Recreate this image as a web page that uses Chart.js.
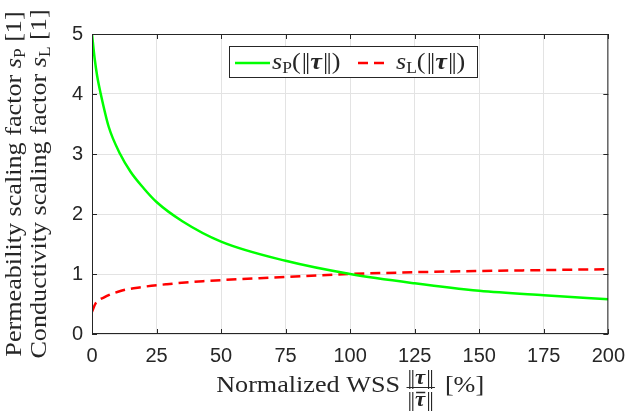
<!DOCTYPE html>
<html>
<head>
<meta charset="utf-8">
<script src="https://cdn.jsdelivr.net/npm/chart.js@4.4.1/dist/chart.umd.min.js"></script>
<style>
html, body { margin: 0; padding: 0; background: #fff; }
#wrap { width: 635px; height: 416px; }
</style>
</head>
<body>
<div id="wrap"><canvas id="chart" width="635" height="416"></canvas></div>
<script>
// Normalized WSS [%] and the scaling factors
const wssP = [0, 1, 2, 3.4, 6.5, 10.9, 15, 20, 25, 35, 50, 75, 100, 125, 150, 175, 200];
const scaleP = [5.0, 4.6, 4.3, 4.0, 3.45, 3.0, 2.7, 2.43, 2.2, 1.88, 1.54, 1.22, 1.0, 0.845, 0.72, 0.645, 0.58];
const wssL = [0, 1.4, 4.7, 11.3, 18.9, 29, 43, 75, 100, 125, 150, 175, 200];
const scaleL = [0.37, 0.51, 0.61, 0.72, 0.78, 0.83, 0.88, 0.95, 1.0, 1.03, 1.05, 1.065, 1.08];

const xTicks = [0, 25, 50, 75, 100, 125, 150, 175, 200];
const yTicks = [0, 1, 2, 3, 4, 5];

const AXIS = '#262626';
const SERIF = '"Liberation Serif", "DejaVu Serif", serif';
const STRETCH = 1.09; // fonte LaTeX é mais larga que a Times
const rm = s => s + 'px ' + SERIF;
const it = s => 'italic ' + s + 'px ' + SERIF;
const bi = s => 'bold italic ' + s + 'px ' + SERIF;

// texto com subscritos: lista de pedaços com fonte própria
function runsWidth(ctx, runs) {
    let w = 0;
    runs.forEach(r => { ctx.font = r.font; w += (ctx.measureText(r.text).width + (r.gap || 0)) * STRETCH; });
    return w;
}
function drawRuns(ctx, runs, x, y) {
    runs.forEach(r => {
        ctx.font = r.font;
        ctx.save();
        ctx.translate(x, y + (r.dy || 0));
        ctx.scale(STRETCH, 1);
        ctx.fillText(r.text, 0, 0);
        ctx.restore();
        x += (ctx.measureText(r.text).width + (r.gap || 0)) * STRETCH;
    });
    return x;
}
// norma ‖·‖ feita com duas barras
const bars = size => ({ text: '|', font: rm(size), gap: -0.07 * size });
const bar = size => ({ text: '|', font: rm(size) });
const tauRuns = size => [bars(size), bar(size), { text: 'τ', font: bi(size), gap: 1 }, bars(size), bar(size)];

// moldura, ticks para dentro, legenda e títulos dos eixos
const decor = {
    id: 'decor',
    afterDraw(chart) {
        const { ctx, chartArea: a, scales: { x, y } } = chart;
        ctx.save();
        ctx.strokeStyle = AXIS;
        ctx.lineWidth = 1;
        ctx.strokeRect(a.left + 0.5, a.top + 0.5, a.right - a.left - 1, a.bottom - a.top - 1);
        const tl = 5;
        ctx.beginPath();
        xTicks.forEach(v => {
            const px = Math.round(x.getPixelForValue(v)) + 0.5;
            ctx.moveTo(px, a.bottom); ctx.lineTo(px, a.bottom - tl);
            ctx.moveTo(px, a.top); ctx.lineTo(px, a.top + tl);
        });
        yTicks.forEach(v => {
            const py = Math.round(y.getPixelForValue(v)) + 0.5;
            ctx.moveTo(a.left, py); ctx.lineTo(a.left + tl, py);
            ctx.moveTo(a.right, py); ctx.lineTo(a.right - tl, py);
        });
        ctx.stroke();

        // legenda
        const bx = a.left + 137, by = a.top + 12, bw = 248, bh = 31;
        ctx.fillStyle = '#fff';
        ctx.fillRect(bx, by, bw, bh);
        ctx.strokeStyle = AXIS;
        ctx.strokeRect(bx + 0.5, by + 0.5, bw, bh);
        const ly = by + 17;
        const ds = chart.data.datasets;
        ctx.lineWidth = 2.5;
        ctx.strokeStyle = ds[0].borderColor;
        ctx.beginPath(); ctx.moveTo(bx + 6, ly); ctx.lineTo(bx + 41, ly); ctx.stroke();
        ctx.fillStyle = AXIS;
        ctx.textBaseline = 'alphabetic';
        const paren = (sub) => [
            { text: 's', font: it(24) }, { text: sub, font: rm(16), dy: 4 },
            { text: '(', font: rm(24), gap: 1 }, ...tauRuns(24), { text: ')', font: rm(24) }
        ];
        drawRuns(ctx, paren('P'), bx + 43, ly + 6);
        ctx.strokeStyle = ds[1].borderColor;
        ctx.setLineDash(ds[1].borderDash);
        ctx.beginPath(); ctx.moveTo(bx + 129, ly); ctx.lineTo(bx + 158, ly); ctx.stroke();
        ctx.setLineDash([]);
        drawRuns(ctx, paren('L'), bx + 167, ly + 6);

        // título do eixo x
        ctx.fillStyle = AXIS;
        const left = [{ text: 'Normalized WSS ', font: rm(24) }];
        const num = tauRuns(21);
        const right = [{ text: '[%]', font: rm(24) }];
        const wl = runsWidth(ctx, left), wf = runsWidth(ctx, num) + 2, wr = runsWidth(ctx, right);
        const total = wl + wf + 10 + wr;
        let cx = (a.left + a.right) / 2 - total / 2;
        const base = 392;
        cx = drawRuns(ctx, left, cx, base);
        drawRuns(ctx, num, cx + 1, base - 8);
        ctx.lineWidth = 1;
        ctx.strokeStyle = AXIS;
        ctx.beginPath(); ctx.moveTo(cx, base - 4.5); ctx.lineTo(cx + wf, base - 4.5); ctx.stroke();
        const tauX = drawRuns(ctx, num.slice(0, 2), cx + 1, base + 14);
        ctx.font = bi(21);
        const tw = ctx.measureText('τ').width * STRETCH;
        drawRuns(ctx, num.slice(2), tauX, base + 14);
        ctx.lineWidth = 1.5;
        ctx.beginPath(); ctx.moveTo(tauX + 1, base + 0.5); ctx.lineTo(tauX + tw, base + 0.5); ctx.stroke();
        drawRuns(ctx, right, cx + wf + 10, base);

        // títulos do eixo y (duas linhas, rotacionadas)
        const cy = (a.top + a.bottom) / 2;
        const line = (name, sub) => [
            { text: name + ' scaling factor ', font: rm(24) }, { text: 's', font: it(24) },
            { text: sub, font: rm(16), dy: 4 }, { text: ' [1]', font: rm(24) }
        ];
        const lines = [line('Permeability', 'P'), line('Conductivity', 'L')];
        [21, 46].forEach((bxl, i) => {
            ctx.save();
            ctx.translate(bxl, cy);
            ctx.rotate(-Math.PI / 2);
            const w = runsWidth(ctx, lines[i]);
            drawRuns(ctx, lines[i], -w / 2, 0);
            ctx.restore();
        });
        ctx.restore();
    }
};

const tickFont = { family: '"Liberation Sans", Arial, sans-serif', size: 20 };

new Chart(document.getElementById('chart'), {
    type: 'line',
    data: {
        datasets: [{
            label: 'sP',
            data: wssP.map((v, i) => ({ x: v, y: scaleP[i] })),
            borderColor: '#00ff00',
            borderWidth: 2.5,
            pointRadius: 0,
            cubicInterpolationMode: 'monotone',
            fill: false
        }, {
            label: 'sL',
            data: wssL.map((v, i) => ({ x: v, y: scaleL[i] })),
            borderColor: '#ff0000',
            borderWidth: 2.5,
            borderDash: [10, 6],
            pointRadius: 0,
            cubicInterpolationMode: 'monotone',
            fill: false
        }]
    },
    options: {
        responsive: false,
        animation: false,
        layout: { padding: { top: 34, right: 18, left: 0, bottom: 0 } },
        plugins: { legend: { display: false }, tooltip: { enabled: false } },
        scales: {
            x: {
                type: 'linear', min: 0, max: 200,
                afterBuildTicks: s => { s.ticks = xTicks.map(v => ({ value: v })); },
                afterFit: s => { s.height = 82; },
                grid: { color: '#e3e3e3', drawTicks: false },
                border: { display: false },
                ticks: { color: AXIS, font: tickFont, padding: 10, maxRotation: 0 }
            },
            y: {
                type: 'linear', min: 0, max: 5,
                afterBuildTicks: s => { s.ticks = yTicks.map(v => ({ value: v })); },
                afterFit: s => { s.width = 92; },
                grid: { color: '#e3e3e3', drawTicks: false },
                border: { display: false },
                ticks: { color: AXIS, font: tickFont, padding: 9 }
            }
        }
    },
    plugins: [decor]
});
</script>
</body>
</html>
